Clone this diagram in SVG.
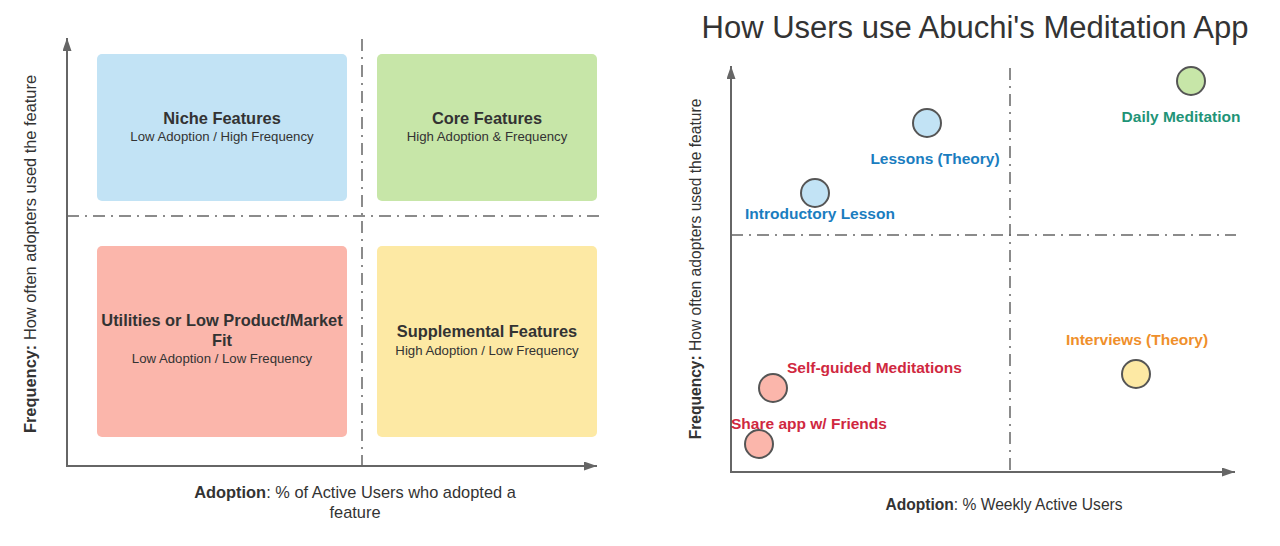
<svg xmlns="http://www.w3.org/2000/svg" width="1280" height="546" viewBox="0 0 1280 546">
<defs>
<marker id="arr" viewBox="0 0 13 9" refX="13" refY="4.5" markerWidth="13" markerHeight="9" markerUnits="userSpaceOnUse" orient="auto"><path d="M0,0 L13,4.5 L0,9 z" fill="#666"/></marker>
<style>
text{font-family:"Liberation Sans",Arial,sans-serif;fill:#333}
.axis{stroke:#666;stroke-width:2;fill:none}
.dash{stroke:#666;stroke-width:1.5;fill:none;stroke-dasharray:12 6 2 6}
.qt{font-size:16.4px;font-weight:bold;text-anchor:middle}
.qs{font-size:13.2px;text-anchor:middle}
.lab{font-size:16.4px;text-anchor:middle}
.lab2{font-size:15.6px;text-anchor:middle}
.pt{font-size:15.5px;font-weight:bold}
.dot{stroke:#555;stroke-width:2}
.blue{fill:#c2e3f5}.green{fill:#c7e6a8}.red{fill:#fbb6ab}.yellow{fill:#fde9a4}
</style>
</defs>
<rect width="1280" height="546" fill="#fff"/>

<g id="connectors">
<line class="axis" x1="67" y1="467" x2="67" y2="38" marker-end="url(#arr)"/>
<line class="axis" x1="66" y1="466" x2="597" y2="466" marker-end="url(#arr)"/>
<line class="dash" x1="362" y1="39" x2="362" y2="466"/>
<line class="dash" x1="67" y1="216" x2="600" y2="216"/>
<line class="axis" x1="731" y1="473" x2="731" y2="66" marker-end="url(#arr)"/>
<line class="axis" x1="730" y1="472" x2="1235" y2="472" marker-end="url(#arr)"/>
<line class="dash" x1="1010" y1="68" x2="1010" y2="472"/>
<line class="dash" x1="731" y1="235" x2="1236" y2="235"/>
</g>

<g id="niche">
<rect class="blue" x="97" y="54" width="250" height="147" rx="5"/>
<text class="qt" x="222" y="124">Niche Features</text>
<text class="qs" x="222" y="141">Low Adoption / High Frequency</text>
</g>
<g id="core">
<rect class="green" x="377" y="54" width="220" height="147" rx="5"/>
<text class="qt" x="487" y="124">Core Features</text>
<text class="qs" x="487" y="141">High Adoption &amp; Frequency</text>
</g>
<g id="utilities">
<rect class="red" x="97" y="246" width="250" height="191" rx="5"/>
<text class="qt" x="222" y="326">Utilities or Low Product/Market</text>
<text class="qt" x="222" y="346">Fit</text>
<text class="qs" x="222" y="363">Low Adoption / Low Frequency</text>
</g>
<g id="supplemental">
<rect class="yellow" x="377" y="246" width="220" height="191" rx="5"/>
<text class="qt" x="487" y="337">Supplemental Features</text>
<text class="qs" x="487" y="355">High Adoption / Low Frequency</text>
</g>
<g id="left-labels">
<text class="lab" x="355" y="498"><tspan font-weight="bold">Adoption</tspan>: % of Active Users who adopted a</text>
<text class="lab" x="355" y="518">feature</text>
<text class="lab" transform="translate(36,254) rotate(-90)"><tspan font-weight="bold">Frequency:</tspan> How often adopters used the feature</text>
</g>

<g id="title">
<text x="975" y="38" font-size="31" text-anchor="middle">How Users use Abuchi's Meditation App</text>
</g>
<g id="daily">
<circle class="dot green" cx="1191" cy="81" r="14"/>
<text class="pt" x="1181" y="122" text-anchor="middle" style="fill:#1f9477">Daily Meditation</text>
</g>
<g id="lessons">
<circle class="dot blue" cx="927" cy="123" r="14"/>
<text class="pt" x="935" y="164" text-anchor="middle" style="fill:#1a7dbf">Lessons (Theory)</text>
</g>
<g id="intro">
<circle class="dot blue" cx="815" cy="193" r="14"/>
<text class="pt" x="820" y="219" text-anchor="middle" style="fill:#1a7dbf">Introductory Lesson</text>
</g>
<g id="interviews">
<circle class="dot yellow" cx="1136" cy="374" r="14"/>
<text class="pt" x="1137" y="345" text-anchor="middle" style="fill:#ef8f2b">Interviews (Theory)</text>
</g>
<g id="selfguided">
<circle class="dot red" cx="773" cy="388" r="14"/>
<text class="pt" x="787" y="373" style="fill:#d0283f">Self-guided Meditations</text>
</g>
<g id="share">
<circle class="dot red" cx="759" cy="444" r="14"/>
<text class="pt" x="731" y="429" style="fill:#d0283f">Share app w/ Friends</text>
</g>
<g id="right-labels">
<text class="lab2" x="1004" y="510"><tspan font-weight="bold">Adoption</tspan>: % Weekly Active Users</text>
<text class="lab2" transform="translate(701,269) rotate(-90)"><tspan font-weight="bold">Frequency:</tspan> How often adopters used the feature</text>
</g>
</svg>
